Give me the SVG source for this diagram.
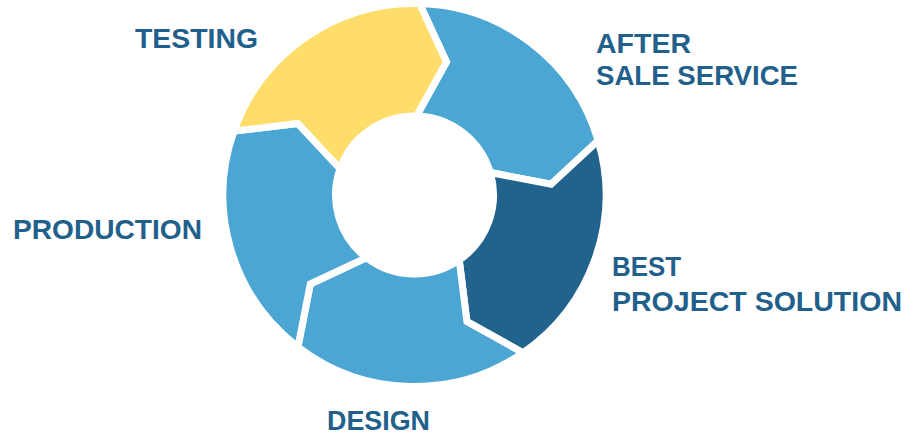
<svg xmlns="http://www.w3.org/2000/svg" width="908" height="436" viewBox="0 0 908 436">
<style>
.seg{stroke:#ffffff;stroke-width:7;stroke-linejoin:miter}
.light{fill:#4ba6d4}
.dark{fill:#22638e}
.yellow{fill:#fedd6a}
.lbl{font-family:"Liberation Sans",Arial,sans-serif;font-weight:700;font-size:28px;fill:#22608c}
</style>
<rect width="908" height="436" fill="#ffffff"/>
<g id="after-sale-service">
<path class="seg light" d="M419.51,3.57 A191.5,191.5 0 0 1 598.11,140.61 L551.08,184.25 L490.25,172.56 A79,79 0 0 0 416.57,116.03 L446.48,61.79 Z"/>
<text class="lbl" x="596" y="53" textLength="95" lengthAdjust="spacingAndGlyphs">AFTER</text>
<text class="lbl" x="596" y="85" textLength="202" lengthAdjust="spacingAndGlyphs">SALE SERVICE</text>
</g>
<g id="best-project-solution">
<path class="seg dark" d="M598.11,140.61 A191.5,191.5 0 0 1 522.97,352.82 L466.93,321.57 L459.25,260.11 A79,79 0 0 0 490.25,172.56 L551.08,184.25 Z"/>
<text class="lbl" x="612" y="276" textLength="69" lengthAdjust="spacingAndGlyphs">BEST</text>
<text class="lbl" x="612" y="311" textLength="290" lengthAdjust="spacingAndGlyphs">PROJECT SOLUTION</text>
</g>
<g id="design">
<path class="seg light" d="M522.97,352.82 A191.5,191.5 0 0 1 297.92,346.93 L310.32,283.97 L366.41,257.67 A79,79 0 0 0 459.25,260.11 L466.93,321.57 Z"/>
<text class="lbl" x="327" y="430" textLength="103" lengthAdjust="spacingAndGlyphs">DESIGN</text>
</g>
<g id="production">
<path class="seg light" d="M297.92,346.93 A191.5,191.5 0 0 1 233.98,131.08 L297.69,123.42 L340.03,168.63 A79,79 0 0 0 366.41,257.67 L310.32,283.97 Z"/>
<text class="lbl" x="13" y="239" textLength="189" lengthAdjust="spacingAndGlyphs">PRODUCTION</text>
</g>
<g id="testing">
<path class="seg yellow" d="M233.98,131.08 A191.5,191.5 0 0 1 419.51,3.57 L446.48,61.79 L416.57,116.03 A79,79 0 0 0 340.03,168.63 L297.69,123.42 Z"/>
<text class="lbl" x="135" y="48" textLength="123" lengthAdjust="spacingAndGlyphs">TESTING</text>
</g>
<g id="connectors"></g>
</svg>
